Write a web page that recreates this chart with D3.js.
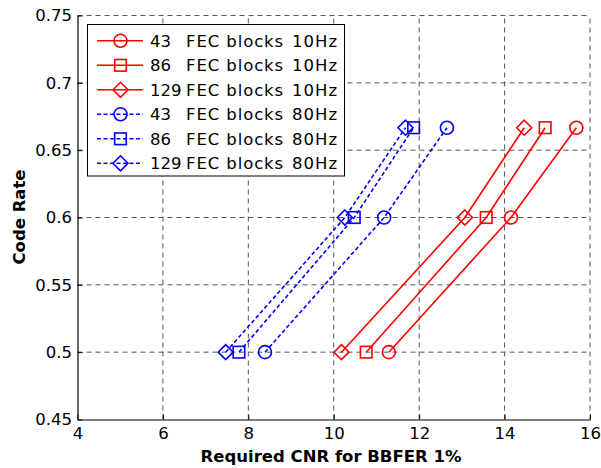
<!DOCTYPE html>
<html>
<head>
<meta charset="utf-8">
<script src="https://cdn.jsdelivr.net/npm/d3@7"></script>
<style>
body{margin:0;background:#fff;}
text{font-family:"DejaVu Sans",sans-serif;}
</style>
</head>
<body>
<div id="chart"></div>
<script>
// code rates on y
var rates = [0.5, 0.6, 2/3];

// required CNR per series
var cnr43_10 = [11.29, 14.15, 15.68];
var cnr86_10 = [10.76, 13.57, 14.95];
var cnr129_10 = [10.18, 13.07, 14.46];
var cnr43_80 = [8.39, 11.18, 12.65];
var cnr86_80 = [7.78, 10.48, 11.87];
var cnr129_80 = [7.47, 10.26, 11.68];

var blockLabels = ["43", "86", "129", "43", "86", "129"];
var freqLabels = ["10Hz", "10Hz", "10Hz", "80Hz", "80Hz", "80Hz"];
var xTicks = [4, 6, 8, 10, 12, 14, 16];
var yTicks = [0.45, 0.5, 0.55, 0.6, 0.65, 0.7, 0.75];

var series = [
	{vals: cnr43_10, color: "#ff0000", dash: null, mark: "circle"},
	{vals: cnr86_10, color: "#ff0000", dash: null, mark: "square"},
	{vals: cnr129_10, color: "#ff0000", dash: null, mark: "diamond"},
	{vals: cnr43_80, color: "#0000ff", dash: "4,2.5", mark: "circle"},
	{vals: cnr86_80, color: "#0000ff", dash: "4,2.5", mark: "square"},
	{vals: cnr129_80, color: "#0000ff", dash: "4,2.5", mark: "diamond"}
];

var W = 601, H = 468;
var m = {left: 77.5, right: 11, top: 15.5, bottom: 48.5};

var svg = d3.select("#chart").append("svg")
	.attr("width", W).attr("height", H);

var x = d3.scaleLinear().domain([4, 16]).range([m.left, W - m.right]);
var y = d3.scaleLinear().domain([0.45, 0.75]).range([H - m.bottom, m.top]);

// grid
svg.append("g").selectAll("line").data(xTicks.slice(1)).enter().append("line")
	.attr("x1", function(d){ return x(d); }).attr("x2", function(d){ return x(d); })
	.attr("y1", y(0.45)).attr("y2", y(0.75))
	.attr("stroke", "#555").attr("stroke-width", 1).attr("stroke-dasharray", "5,4");
svg.append("g").selectAll("line").data(yTicks.slice(1)).enter().append("line")
	.attr("y1", function(d){ return y(d); }).attr("y2", function(d){ return y(d); })
	.attr("x1", x(4)).attr("x2", x(16))
	.attr("stroke", "#555").attr("stroke-width", 1).attr("stroke-dasharray", "5,4");

// axes
var xAxis = svg.append("g").attr("transform", "translate(0," + y(0.45) + ")")
	.call(d3.axisBottom(x).tickValues(xTicks).tickFormat(d3.format("d")).tickSizeInner(-5).tickSizeOuter(0).tickPadding(8));
var yAxis = svg.append("g").attr("transform", "translate(" + x(4) + ",0)")
	.call(d3.axisLeft(y).tickValues(yTicks).tickFormat(function(d){ return +d.toFixed(2) + ""; }).tickSizeInner(-5).tickSizeOuter(0).tickPadding(5.5));
[xAxis, yAxis].forEach(function(a){
	a.select(".domain").attr("stroke", "#000").attr("stroke-width", 1.2);
	a.selectAll(".tick line").attr("stroke", "#000");
	a.selectAll("text").attr("font-size", 16.5).attr("fill", "#000")
		.style("font-family", "'DejaVu Sans',sans-serif");
});

// marker drawing
function drawMark(g, type, cx, cy, color){
	if (type == "circle"){
		g.append("circle").attr("cx", cx).attr("cy", cy).attr("r", 6.5)
			.attr("fill", "none").attr("stroke", color).attr("stroke-width", 1.6);
	} else if (type == "square"){
		g.append("rect").attr("x", cx - 5.8).attr("y", cy - 5.8).attr("width", 11.6).attr("height", 11.6)
			.attr("fill", "none").attr("stroke", color).attr("stroke-width", 1.6);
	} else {
		var s = 7.5;
		g.append("path").attr("d", "M" + cx + "," + (cy - s) + "L" + (cx + s) + "," + cy + "L" + cx + "," + (cy + s) + "L" + (cx - s) + "," + cy + "Z")
			.attr("fill", "none").attr("stroke", color).attr("stroke-width", 1.6);
	}
}

var line = d3.line()
	.x(function(d){ return x(d[0]); })
	.y(function(d){ return y(d[1]); });

series.forEach(function(s){
	var pts = s.vals.map(function(v, i){ return [v, rates[i]]; });
	var g = svg.append("g");
	g.append("path").attr("d", line(pts))
		.attr("fill", "none").attr("stroke", s.color).attr("stroke-width", 1.6)
		.attr("stroke-dasharray", s.dash);
	pts.forEach(function(p){ drawMark(g, s.mark, x(p[0]), y(p[1]), s.color); });
});

// legend
var lg = svg.append("g");
lg.append("rect").attr("x", 87.5).attr("y", 24.5).attr("width", 257).attr("height", 151.5)
	.attr("fill", "#fff").attr("stroke", "#000").attr("stroke-width", 1);
series.forEach(function(s, i){
	var ly = 40.8 + i * 24.5;
	lg.append("line").attr("x1", 97).attr("x2", 143).attr("y1", ly).attr("y2", ly)
		.attr("stroke", s.color).attr("stroke-width", 1.6).attr("stroke-dasharray", s.dash);
	drawMark(lg, s.mark, 120.5, ly, s.color);
	var t = lg.append("g").attr("font-size", 16.5).attr("fill", "#000")
		.style("font-family", "'Liberation Sans',Arial,sans-serif");
	t.append("text").attr("x", 150).attr("y", ly + 6).text(blockLabels[i]);
	t.append("text").attr("x", 186).attr("y", ly + 6)
		.style("letter-spacing", "0.9px").text("FEC blocks");
	t.append("text").attr("x", 292).attr("y", ly + 6).style("letter-spacing", "1px").text(freqLabels[i]);
});

// axis titles
svg.append("text").attr("x", 331).attr("y", 462).attr("text-anchor", "middle")
	.attr("font-size", 16.5).attr("font-weight", "bold").text("Required CNR for BBFER 1%");
svg.append("text").attr("transform", "translate(25," + 217 + ") rotate(-90)")
	.attr("text-anchor", "middle").attr("font-size", 16.5).attr("font-weight", "bold").text("Code Rate");
</script>
</body>
</html>
